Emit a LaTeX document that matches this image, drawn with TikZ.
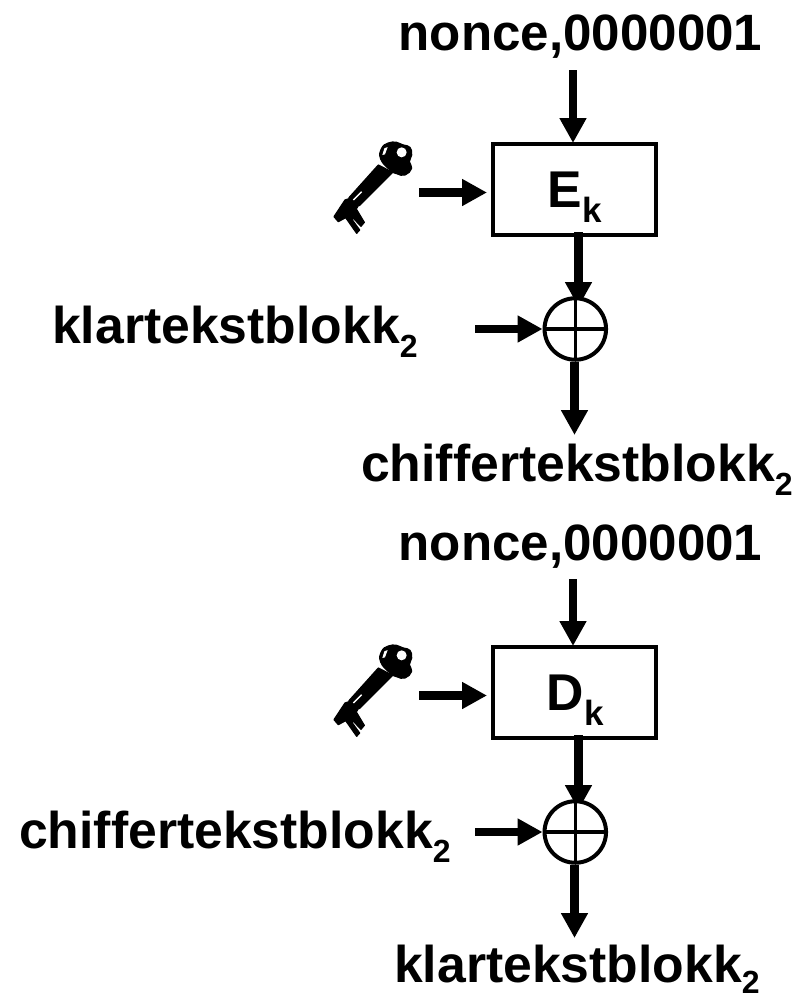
\documentclass[tikz,border=0pt]{standalone}
\usepackage{fontspec}
\setmainfont{Liberation Sans}
\usetikzlibrary{arrows.meta}
\newcommand{\subs}[1]{\raisebox{-14.5pt}{\fontsize{32}{32}\selectfont #1}}
\newcommand{\subsb}[1]{\raisebox{-11pt}{\fontsize{32}{32}\selectfont #1}}
\newcommand{\subk}[1]{\raisebox{-15.5pt}{\fontsize{35}{35}\selectfont #1}}
\tikzset{
  lbl/.style={font=\fontsize{51.1}{51.1}\selectfont\bfseries,inner sep=0pt,anchor=base},
  lblw/.style={font=\fontsize{51.7}{51.7}\selectfont\bfseries,inner sep=0pt,anchor=base west},
  blockbox/.style={draw=black,line width=4.3pt,fill=white,minimum width=163pt,minimum height=91pt,inner sep=0pt},
  xorc/.style={circle,draw=black,line width=4pt,fill=white,minimum size=61.5pt,inner sep=0pt},
  flow/.style={line width=8.8pt,-{Triangle[width=25.5pt,length=25pt,sep=0pt]}},
  crossline/.style={line width=3.6pt},
  keypart/.style={draw=black,fill=black,line width=1.2pt,line join=round},
  keyshape/.pic={
    \begin{scope}[shift={(325,135)},x=0.3333pt,y=-0.3333pt]
      \path[keypart] plot[smooth cycle,tension=.8] coordinates {(167,72) (170,40) (190,24) (215,22) (235,30) (255,37) (260,60) (253,80) (260,100) (240,120) (215,116) (195,105)};
      \path[keypart] (160,90) -- (203,112) -- (103,212) -- (72,188) -- cycle;
      \path[keypart] (60,195) -- (75,190) -- (100,212) -- (94,222) -- (118,262) -- (108,274) -- (85,250) -- (80,252) -- (104,285) -- (95,295) -- (62,248) -- (40,260) -- (27,245) -- cycle;
      \fill[white] (230,52) circle (15);
      \fill[white] (172,60) -- (178,40) -- (188,36) -- (180,58) -- cycle;
      \draw[white,line width=1.3pt] (85,195) -- (110,170);
    \end{scope}
  }
}
\begin{document}
\begin{tikzpicture}[x=1pt,y=-1pt]
\useasboundingbox (0,0) rectangle (796,994);
% upper block
\node[lbl] (n1) at (580.5,50) {nonce,0000001};
\node[blockbox] (b1) at (574.5,189.5) {};
\node[lblw] (e1) at (547.5,207) {E\subk{k}};
\coordinate (a1s) at (573,70);
\coordinate (a1e) at (573,143);
\coordinate (k1s) at (419,192.5);
\coordinate (k1e) at (487,192.5);
\coordinate (d1s) at (578.5,232);
\coordinate (d1e) at (578.5,307);
\coordinate (l1s) at (475,329);
\coordinate (o1s) at (574.5,362);
\coordinate (o1e) at (574.5,435);
\node[lblw] (p1) at (52,343) {klartekstblokk\subs{2}};
\node[lblw] (c1) at (361,481) {chifferte{}kstblokk\subs{2}};
\draw[flow] (a1s) -- (a1e);
\draw[flow] (k1s) -- (k1e);
\draw[flow] (d1s) -- (d1e);
\node[xorc] (x1) at (575.3,329) {};
\draw[crossline,shorten >=3pt] (x1.north) -- (x1.south);
\draw[crossline] (x1.west) -- (x1.east);
\draw[flow] (l1s) -- (x1.west);
\draw[flow] (o1s) -- (o1e);
\pic at (0,0) {keyshape};
% lower block
\node[lbl] (n2) at (580.5,560) {nonce,0000001};
\node[blockbox] (b2) at (574.5,692.5) {};
\node[lblw] (e2) at (546.5,710) {D\subk{k}};
\coordinate (a2s) at (573,579);
\coordinate (a2e) at (573,646);
\coordinate (k2s) at (419,695.5);
\coordinate (k2e) at (487,695.5);
\coordinate (d2s) at (578.5,735);
\coordinate (d2e) at (578.5,810);
\coordinate (l2s) at (475,832);
\coordinate (o2s) at (574.5,865);
\coordinate (o2e) at (574.5,938);
\node[lblw] (p2) at (19,848) {chifferte{}kstblokk\subs{2}};
\node[lblw] (c2) at (394,982.5) {klartekstblokk\subsb{2}};
\draw[flow] (a2s) -- (a2e);
\draw[flow] (k2s) -- (k2e);
\draw[flow] (d2s) -- (d2e);
\node[xorc] (x2) at (575.3,832) {};
\draw[crossline,shorten >=3pt] (x2.north) -- (x2.south);
\draw[crossline] (x2.west) -- (x2.east);
\draw[flow] (l2s) -- (x2.west);
\draw[flow] (o2s) -- (o2e);
\pic at (0,503) {keyshape};
\end{tikzpicture}
\end{document}
